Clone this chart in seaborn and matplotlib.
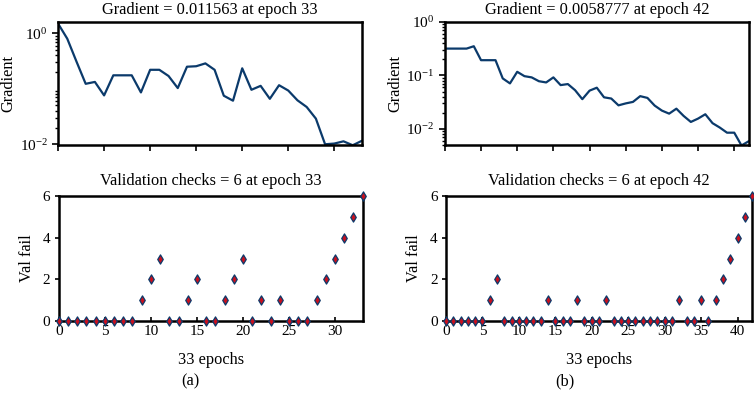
import numpy as np
import pandas as pd
import matplotlib
matplotlib.use("Agg")
import matplotlib.pyplot as plt
import seaborn as sns

# Data
epochs_a = list(range(34))
grad_a = [1.5, 0.80, 0.31, 0.123, 0.133, 0.076, 0.175, 0.175, 0.175, 0.086,
          0.22, 0.22, 0.17, 0.103, 0.25, 0.255, 0.287, 0.22, 0.075, 0.061,
          0.234, 0.096, 0.113, 0.066, 0.116, 0.093, 0.062, 0.047, 0.029, 0.0100,
          0.0103, 0.0113, 0.0096, 0.011563]
valfail_a = [0, 0, 0, 0, 0, 0, 0, 0, 0, 1, 2, 3, 0, 0, 1, 2, 0, 0, 1, 2,
             3, 0, 1, 0, 1, 0, 0, 0, 1, 2, 3, 4, 5, 6]

epochs_b = list(range(43))
grad_b = [0.318, 0.318, 0.318, 0.318, 0.352, 0.193, 0.193, 0.193, 0.088, 0.071,
          0.117, 0.097, 0.092, 0.078, 0.074, 0.092, 0.066, 0.069, 0.053, 0.036,
          0.052, 0.059, 0.039, 0.037, 0.0276, 0.030, 0.032, 0.041, 0.038, 0.0273,
          0.022, 0.0193, 0.0239, 0.0175, 0.0135, 0.0156, 0.0188, 0.0128, 0.0106, 0.0085,
          0.0085, 0.0049, 0.0058777]
valfail_b = [0, 0, 0, 0, 0, 0, 1, 2, 0, 0, 0, 0, 0, 0, 1, 0, 0, 0, 1, 0,
             0, 0, 1, 0, 0, 0, 0, 0, 0, 0, 0, 0, 1, 0, 0, 1, 0, 1, 2, 3,
             4, 5, 6]

titles_grad = ["Gradient = 0.011563 at epoch 33", "Gradient = 0.0058777 at epoch 42"]
titles_val = ["Validation checks = 6 at epoch 33", "Validation checks = 6 at epoch 42"]
panel_labels = ["(a)", "(b)"]

sns.set_style("ticks")
plt.rcParams["font.family"] = ["Liberation Serif", "DejaVu Serif"]
plt.rcParams["mathtext.fontset"] = "stix"
plt.rcParams["axes.linewidth"] = 1.8
plt.rcParams["axes.edgecolor"] = "black"
plt.rcParams["xtick.color"] = "black"
plt.rcParams["ytick.color"] = "black"
plt.rcParams["text.color"] = "black"
plt.rcParams["axes.labelcolor"] = "black"

line_color = "#0b3a6b"
fs = 11.8
tfs = 11

fig = plt.figure(figsize=(7.54, 4.0), dpi=100)

ax_ga = fig.add_axes([0.077, 0.6375, 0.403, 0.3075])
ax_va = fig.add_axes([0.078, 0.1975, 0.403, 0.3125])
ax_gb = fig.add_axes([0.590, 0.6375, 0.403, 0.3075])
ax_vb = fig.add_axes([0.5915, 0.1975, 0.406, 0.3125])

panels = [
    (ax_ga, ax_va, epochs_a, grad_a, valfail_a, (0.0097, 1.6), [1e-2, 1]),
    (ax_gb, ax_vb, epochs_b, grad_b, valfail_b, (0.0050, 1.0), [1e-2, 1e-1, 1]),
]

for i, (ax_g, ax_v, ep, gr, vf, ylim, yt) in enumerate(panels):
    # Gradient curve
    sns.lineplot(x=ep, y=gr, ax=ax_g, color=line_color, linewidth=1.6)
    ax_g.set_yscale("log")
    ax_g.set_xlim(0, ep[-1])
    ax_g.set_ylim(*ylim)
    ax_g.set_yticks(yt)
    ax_g.set_xticks(range(0, ep[-1] + 1, 5))
    ax_g.set_xticklabels([])
    ax_g.set_ylabel("Gradient", fontsize=fs, labelpad=2)
    ax_g.set_title(titles_grad[i], fontsize=fs, pad=6)
    ax_g.tick_params(axis="both", labelsize=tfs, direction="out", length=4, width=1.2)
    ax_g.tick_params(axis="y", which="minor", direction="out", length=2.5, width=1.0)
    for s in ax_g.spines.values():
        s.set_visible(True)

    # Validation fails
    sns.scatterplot(x=ep, y=vf, ax=ax_v, marker="d", s=22, color="#c8101e",
                    edgecolor=line_color, linewidth=0.9, zorder=3, clip_on=False)
    ax_v.set_xlim(0, ep[-1])
    ax_v.set_ylim(0, 6)
    ax_v.set_yticks([0, 2, 4, 6])
    ax_v.set_xticks(range(0, ep[-1] + 1, 5))
    ax_v.set_ylabel("Val fail", fontsize=fs, labelpad=6)
    ax_v.set_xlabel("33 epochs", fontsize=fs, labelpad=10)
    ax_v.set_title(titles_val[i], fontsize=fs, pad=8)
    ax_v.tick_params(axis="x", labelsize=tfs, direction="in", length=3, width=1.2, pad=3)
    ax_v.tick_params(axis="y", labelsize=tfs, direction="out", length=3, width=1.2, pad=3)
    for s in ax_v.spines.values():
        s.set_visible(True)

fig.text(0.252, 0.047, panel_labels[0], ha="center", va="center", fontsize=fs)
fig.text(0.749, 0.047, panel_labels[1], ha="center", va="center", fontsize=fs)

fig.savefig("out.png", dpi=100)
